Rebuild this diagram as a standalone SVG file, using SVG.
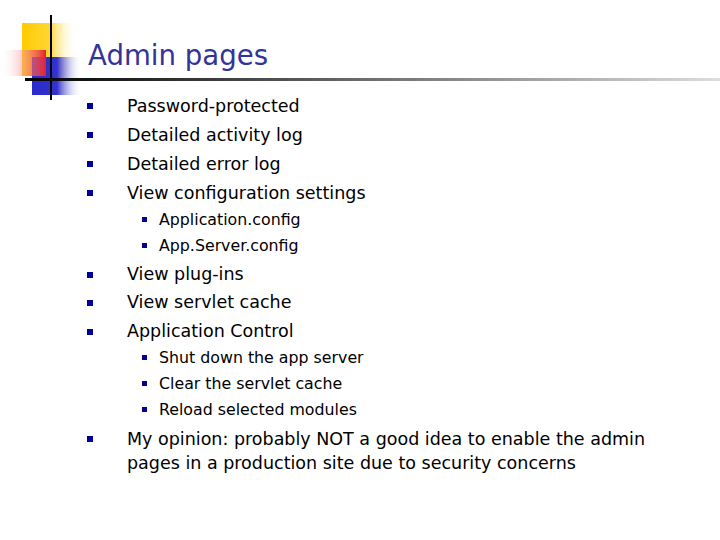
<svg xmlns="http://www.w3.org/2000/svg" width="720" height="540" viewBox="0 0 720 540">
<defs>
<linearGradient id="gy" x1="0" x2="1"><stop offset="0" stop-color="#ffcc00"/><stop offset="0.5" stop-color="#ffd633"/><stop offset="1" stop-color="#fff" stop-opacity="0"/></linearGradient>
<linearGradient id="gr" x1="0" x2="1"><stop offset="0" stop-color="#fff" stop-opacity="0"/><stop offset="1" stop-color="#e8202a"/></linearGradient>
<linearGradient id="gb" x1="0" x2="1"><stop offset="0" stop-color="#2a2acc"/><stop offset="0.5" stop-color="#3333cc"/><stop offset="1" stop-color="#fff" stop-opacity="0"/></linearGradient>
<linearGradient id="gl" x1="0" x2="1"><stop offset="0" stop-color="#000"/><stop offset="1" stop-color="#ddd"/></linearGradient>
<style>
.t{font-family:"DejaVu Sans","Liberation Sans",sans-serif;fill:#000}
.b{font-size:17.5px}.s{font-size:15.8px}
.bl{fill:#000099}
</style>
</defs>
<g id="decor">
<rect x="22" y="23" width="55" height="53" fill="url(#gy)"/>
<rect x="32" y="57" width="50" height="38" fill="url(#gb)"/>
<rect x="0" y="50" width="46" height="26" fill="url(#gr)"/>
<rect x="50" y="15" width="2" height="85" fill="#000"/>
<rect x="25" y="78" width="695" height="3" fill="url(#gl)"/>
</g>
<text x="88" y="65" font-family="DejaVu Sans,sans-serif" font-size="27.6" fill="#333399">Admin pages</text>
<g class="bl">
<rect x="87" y="103" width="6" height="6"/><rect x="87" y="132" width="6" height="6"/><rect x="87" y="161" width="6" height="6"/><rect x="87" y="190" width="6" height="6"/>
<rect x="142" y="217" width="5" height="5"/><rect x="142" y="243" width="5" height="5"/>
<rect x="87" y="272" width="6" height="6"/><rect x="87" y="300" width="6" height="6"/><rect x="87" y="329" width="6" height="6"/>
<rect x="142" y="355" width="5" height="5"/><rect x="142" y="381" width="5" height="5"/><rect x="142" y="407" width="5" height="5"/>
<rect x="87" y="436" width="6" height="6"/>
</g>
<g class="t b">
<text x="127" y="112">Password-protected</text>
<text x="127" y="141">Detailed activity log</text>
<text x="127" y="170">Detailed error log</text>
<text x="127" y="199">View configuration settings</text>
<text x="127" y="280">View plug-ins</text>
<text x="127" y="308">View servlet cache</text>
<text x="127" y="337">Application Control</text>
<text x="127" y="445">My opinion: probably NOT a good idea to enable the admin</text>
<text x="127" y="469">pages in a production site due to security concerns</text>
</g>
<g class="t s">
<text x="159" y="225">Application.config</text>
<text x="159" y="251">App.Server.config</text>
<text x="159" y="363">Shut down the app server</text>
<text x="159" y="389">Clear the servlet cache</text>
<text x="159" y="415">Reload selected modules</text>
</g>
</svg>
